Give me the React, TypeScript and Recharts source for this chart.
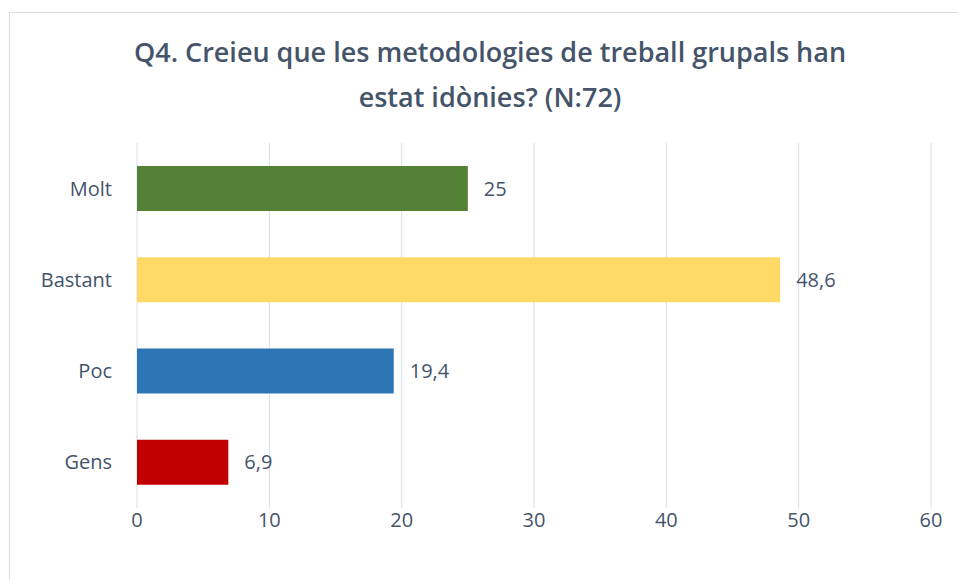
import { Bar, BarChart, CartesianGrid, Cell, LabelList, XAxis, YAxis } from "recharts";

const categories = ["Molt", "Bastant", "Poc", "Gens"];
const percentages = [25, 48.6, 19.4, 6.9];
const barColors = ["#538135", "#FFD966", "#2E75B6", "#C00000"];
const xTicks = [0, 10, 20, 30, 40, 50, 60];

const rows = categories.map((name, i) => ({ name, value: percentages[i] }));

const ink = "#44546A";
const font = "'Open Sans', Lato, sans-serif";

export default function App() {
  return (
    <div style={{ position: "absolute", left: 0, top: 0, width: 958, height: 580, background: "#fff", overflow: "hidden", fontFamily: font }}>
      <div style={{ position: "absolute", left: 9, top: 12, width: 1000, height: 620, border: "1px solid #D9DEE6" }} />
      <div style={{ position: "absolute", left: 0, top: 29, width: 980, textAlign: "center", color: ink, fontSize: 27, fontWeight: 600, lineHeight: "45px" }}>
        Q4. Creieu que les metodologies de treball grupals han
        <br />
        estat idònies? (N:72)
      </div>
      <div style={{ position: "absolute", left: 0, top: 0 }}>
        <BarChart
          width={958}
          height={580}
          data={rows}
          layout="vertical"
          barSize={45}
          margin={{ top: 143, right: 27, bottom: 42, left: 0 }}
        >
          <CartesianGrid horizontal={false} stroke="#D9DEE6" />
          <XAxis
            type="number"
            dataKey="value"
            domain={[0, 60]}
            ticks={xTicks}
            axisLine={false}
            tickLine={false}
            tickMargin={-1}
            height={30}
            tick={{ fill: ink, fontSize: 20, fontFamily: font }}
          />
          <YAxis
            type="category"
            dataKey="name"
            width={137}
            axisLine={false}
            tickLine={false}
            tickMargin={19}
            tick={{ fill: ink, fontSize: 20, fontFamily: font }}
          />
          <Bar dataKey="value" isAnimationActive={false}>
            {rows.map((_, i) => (
              <Cell key={i} fill={barColors[i]} />
            ))}
            <LabelList
              dataKey="value"
              position="right"
              offset={16}
              formatter={(v: any) => String(v).replace(".", ",")}
              style={{ fill: ink, fontSize: 20, fontFamily: font }}
            />
          </Bar>
        </BarChart>
      </div>
    </div>
  );
}
